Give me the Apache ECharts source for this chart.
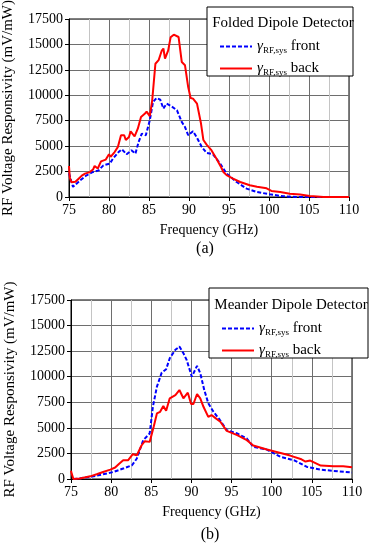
<!DOCTYPE html>
<html>
<head>
<meta charset="utf-8">
<script src="https://cdn.jsdelivr.net/npm/echarts@6/dist/echarts.min.js"></script>
<style>
  html, body { margin: 0; padding: 0; background: #fff; }
  #main { width: 369px; height: 545px; }
</style>
</head>
<body>
<div id="main"></div>
<script>
// (a) Folded dipole detector
var freqA_front = [75.0, 75.3, 75.5, 75.8, 76.4, 77.2, 78.0, 78.7, 79.3, 80.1, 80.5, 81.2, 81.6, 82.2, 82.8, 83.3, 83.7, 84.1, 84.6, 85.1, 85.5, 85.95, 86.4, 86.8, 87.2, 87.8, 88.5, 89.1, 89.5, 89.9, 90.5, 90.95, 91.6, 92.2, 93.0, 93.9, 94.7, 95.95, 97.2, 98.5, 100.1, 101.8, 103.4, 110];
var respA_front = [2330, 1500, 1000, 1200, 1640, 2130, 2460, 2620, 3110, 3280, 3770, 4420, 4690, 4200, 4590, 4260, 5410, 6230, 6070, 7540, 9340, 9730, 9570, 8690, 9180, 8920, 8520, 7370, 6880, 6070, 6460, 5900, 4920, 4330, 4200, 3280, 2300, 1475, 825, 490, 265, 70, 0, 0];
var freqA_back = [75.0, 75.1, 75.3, 75.5, 75.8, 76.2, 76.6, 77.0, 77.6, 78.0, 78.2, 78.6, 79.0, 79.6, 80.0, 80.2, 80.7, 81.1, 81.5, 81.9, 82.1, 82.5, 82.7, 83.2, 83.6, 84.0, 84.5, 84.7, 85.1, 85.4, 85.8, 86.2, 86.4, 86.6, 86.8, 87.0, 87.4, 87.7, 88.1, 88.7, 89.1, 89.5, 89.9, 90.2, 90.5, 90.7, 91.0, 91.5, 91.8, 92.2, 92.8, 93.4, 94.0, 94.3, 94.7, 95.5, 96.4, 97.6, 98.5, 99.7, 100.3, 101.4, 102.6, 103.9, 105.1, 106.0, 106.8, 107.6, 110];
var respA_back = [3050, 1900, 1450, 1320, 1500, 1800, 2100, 2300, 2450, 2700, 3050, 2800, 3500, 3680, 4200, 3950, 4420, 4900, 6070, 6070, 5600, 5900, 6460, 5970, 6720, 7860, 8200, 8400, 7950, 9500, 13100, 13450, 13270, 14400, 14600, 13600, 14420, 15700, 15960, 15730, 13270, 12950, 10810, 9730, 9670, 9830, 9180, 7220, 5600, 5150, 4600, 3800, 2950, 2460, 2150, 1800, 1475, 1150, 1000, 850, 600, 490, 330, 235, 100, 60, 0, 0, 0];

// (b) Meander dipole detector
var freqB_front = [75.3, 76.0, 77.8, 79.0, 80.3, 81.5, 82.6, 83.2, 84.0, 84.8, 85.2, 85.7, 86.3, 86.85, 87.3, 88.0, 88.5, 89.0, 89.4, 90.05, 90.7, 91.1, 91.6, 92.1, 92.75, 93.5, 94.4, 95.7, 96.9, 97.7, 99.4, 101.1, 102.8, 104.4, 106.1, 107.7, 110];
var respB_front = [0, 50, 260, 460, 690, 1020, 1340, 2000, 3800, 4450, 7060, 9030, 10400, 10730, 11810, 12630, 12950, 12300, 11650, 10010, 11060, 10340, 8700, 7400, 6570, 5820, 4780, 4450, 3960, 3140, 2880, 2160, 1830, 1180, 920, 785, 630];
var freqB_back = [75.0, 75.1, 75.3, 76.1, 77.4, 78.2, 79.0, 79.9, 80.5, 81.0, 81.5, 82.1, 82.7, 83.2, 83.8, 84.2, 84.8, 85.3, 85.7, 86.1, 86.5, 86.85, 87.3, 88.0, 88.5, 89.0, 89.55, 89.96, 90.25, 90.7, 91.1, 91.5, 92.1, 92.5, 93.0, 93.6, 94.4, 95.7, 96.9, 97.7, 99.4, 101.1, 102.3, 103.6, 104.2, 104.8, 106.1, 107.7, 108.9, 110];
var respB_back = [800, 500, 0, 40, 260, 460, 690, 920, 1120, 1500, 1830, 1830, 2420, 2320, 3300, 3700, 3630, 5100, 6410, 6570, 7130, 6670, 7890, 8210, 8700, 7890, 8440, 7330, 7330, 8310, 7890, 7060, 6080, 6250, 5950, 5600, 4710, 4290, 3800, 3280, 2880, 2550, 2290, 1960, 1710, 1800, 1310, 1250, 1250, 1150];

var xTicks = [75, 80, 85, 90, 95, 100, 105, 110];
var yTicks = [0, 2500, 5000, 7500, 10000, 12500, 15000, 17500];
var legendNames = ['front', 'back'];

var FONT = '"Liberation Serif", "DejaVu Serif", serif';

function pairs(xs, ys) {
  return xs.map(function (x, i) { return [x, ys[i]]; });
}

function xAxisOf(idx) {
  return {
    type: 'value', gridIndex: idx,
    min: xTicks[0], max: xTicks[xTicks.length - 1], interval: 5,
    name: 'Frequency (GHz)', nameLocation: 'middle', nameGap: 26,
    nameTextStyle: { fontFamily: FONT, fontSize: 14, color: '#000' },
    axisLine: { show: true, onZero: false, lineStyle: { color: '#000', width: 1 } },
    axisTick: { show: true, length: 4, lineStyle: { color: '#000' } },
    axisLabel: { margin: 6, fontFamily: FONT, fontSize: 14, color: '#000', formatter: function (v) { return String(v); } },
    splitLine: { show: true, lineStyle: { color: '#6e6e6e', width: 1 } },
    minorTick: { show: false, splitNumber: 2 },
    minorSplitLine: { show: true, lineStyle: { color: '#c4c4c4', width: 1 } }
  };
}

function yAxisOf(idx) {
  return {
    type: 'value', gridIndex: idx,
    min: yTicks[0], max: yTicks[yTicks.length - 1], interval: 2500,
    name: 'RF Voltage Responsivity (mV/mW)', nameLocation: 'middle', nameGap: 53,
    nameTextStyle: { fontFamily: FONT, fontSize: 15, color: '#000' },
    axisLine: { show: true, lineStyle: { color: '#000', width: 1 } },
    axisTick: { show: true, length: 4, lineStyle: { color: '#000' } },
    axisLabel: { margin: 6, fontFamily: FONT, fontSize: 14, color: '#000', formatter: function (v) { return String(v); } },
    splitLine: { show: true, lineStyle: { color: '#6e6e6e', width: 1 } }
  };
}

function frontSeries(idx, data) {
  return {
    name: 'front', type: 'line', xAxisIndex: idx, yAxisIndex: idx,
    data: data, symbol: 'none', showSymbol: false, smooth: false, animation: false,
    lineStyle: { color: '#0000ff', width: 2, type: [4, 2] },
    itemStyle: { color: '#0000ff' }
  };
}

function backSeries(idx, data) {
  return {
    name: 'back', type: 'line', xAxisIndex: idx, yAxisIndex: idx,
    data: data, symbol: 'none', showSymbol: false, smooth: false, animation: false,
    lineStyle: { color: '#ff0000', width: 2 },
    itemStyle: { color: '#ff0000' }
  };
}

function legendOf(left, top) {
  return {
    data: legendNames, orient: 'vertical', left: left, top: top, z: 20,
    itemWidth: 32, itemHeight: 14, itemGap: 6, selectedMode: false,
    itemStyle: { opacity: 0 },
    formatter: function (name) { return '{g|γ}{s|RF,sys} {t|' + name + '}'; },
    textStyle: {
      color: '#000', fontFamily: FONT, fontSize: 15,
      rich: {
        g: { fontFamily: FONT, fontSize: 15, fontStyle: 'italic', color: '#000' },
        s: { fontFamily: FONT, fontSize: 9, color: '#000', padding: [8, 0, 0, 0] },
        t: { fontFamily: FONT, fontSize: 15, color: '#000' }
      }
    }
  };
}

function boxText(x, y, text, size) {
  return {
    type: 'text', x: x, y: y, z: 21,
    style: { text: text, font: size + 'px ' + FONT, fill: '#000', textAlign: 'center', textVerticalAlign: 'middle' }
  };
}

var chart = echarts.init(document.getElementById('main'));
chart.setOption({
  animation: false,
  grid: [
    { left: 69, top: 19, width: 280, height: 178, show: true, borderColor: '#000', borderWidth: 1,
      backgroundColor: 'transparent', containLabel: false, outerBoundsMode: 'none' },
    { left: 71, top: 300, width: 281, height: 179, show: true, borderColor: '#000', borderWidth: 1,
      backgroundColor: 'transparent', containLabel: false, outerBoundsMode: 'none' }
  ],
  xAxis: [xAxisOf(0), xAxisOf(1)],
  yAxis: [yAxisOf(0), yAxisOf(1)],
  legend: [legendOf(214, 34), legendOf(216, 316)],
  series: [
    frontSeries(0, pairs(freqA_front, respA_front)),
    backSeries(0, pairs(freqA_back, respA_back)),
    frontSeries(1, pairs(freqB_front, respB_front)),
    backSeries(1, pairs(freqB_back, respB_back))
  ],
  graphic: [
    { type: 'rect', z: 10, shape: { x: 207, y: 7, width: 146, height: 69 },
      style: { fill: '#fff', stroke: '#000', lineWidth: 1 } },
    boxText(283, 23, 'Folded Dipole Detector', 15),
    { type: 'rect', z: 10, shape: { x: 209, y: 288, width: 159, height: 70 },
      style: { fill: '#fff', stroke: '#000', lineWidth: 1 } },
    boxText(291, 305, 'Meander Dipole Detector', 15),
    boxText(205, 249, '(a)', 16),
    boxText(210, 535, '(b)', 16)
  ]
});
</script>
</body>
</html>
